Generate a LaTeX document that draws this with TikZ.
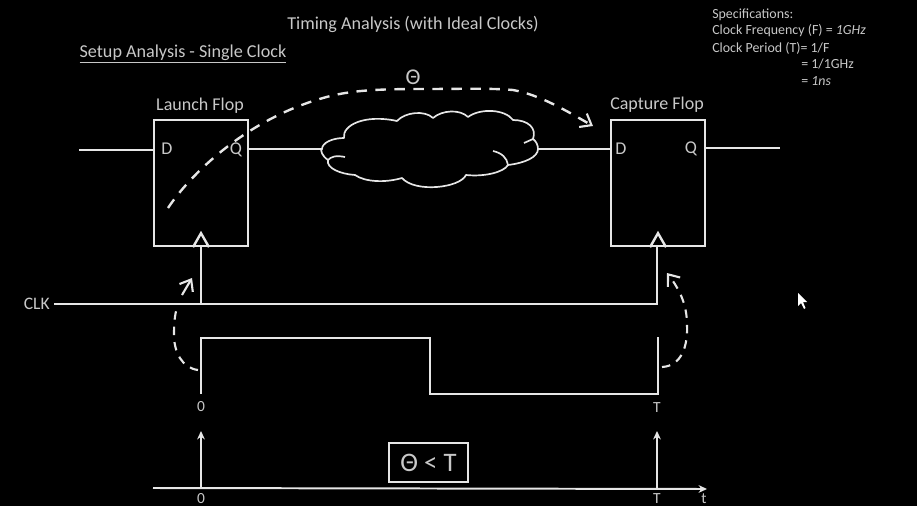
\documentclass[tikz,border=0pt]{standalone}
\usepackage{fontspec}
\setmainfont{Carlito}
\usetikzlibrary{arrows.meta}
\usetikzlibrary{calc}
\usetikzlibrary{positioning}
\definecolor{wireCol}{HTML}{E6E6E6}
\definecolor{textCol}{HTML}{C8C8C8}
\begin{document}
\begin{tikzpicture}[x=0.025cm, y=-0.025cm,
    wire/.style={draw=wireCol, line width=1.7pt},
    thin wire/.style={draw=wireCol, line width=1.2pt},
    dash flow/.style={draw=wireCol, line width=1.7pt, dash pattern=on 7.5pt off 6pt},
    short flow/.style={draw=wireCol, line width=1.5pt, dash pattern=on 6pt off 5pt},
    barb/.style={-{Straight Barb[length=7pt, width=11pt, line width=1.5pt]}},
    flop/.style={rectangle, draw=wireCol, line width=1.7pt, minimum width=2.35cm, minimum height=3.15cm},
    label/.style={text=textCol, font=\fontsize{12.8}{14}\selectfont, inner sep=0pt},
    small label/.style={text=textCol, font=\fontsize{11}{12}\selectfont, inner sep=0pt},
    spec/.style={text=textCol, font=\fontsize{9.9}{11}\selectfont, inner sep=0pt, anchor=west},
    stem/.style={-{Stealth[length=6pt, width=5.5pt]}, draw=wireCol, line width=1.4pt}]
    \fill[black] (0, 0) rectangle (917, 506);
    \useasboundingbox (0, 0) rectangle (917, 506);

    \node[label, font=\fontsize{12.9}{14}\selectfont] (title) at (413, 24.5) {Timing Analysis (with Ideal Clocks)};
    \node[label, font=\fontsize{12.9}{14}\selectfont] (setup) at (183, 54) {\underline{Setup Analysis - Single Clock}};
    \node[spec] (spec1) at (712, 14.5) {Specifications:};
    \node[spec] (spec2) at (712, 31) {Clock Frequency (F) = \textit{1GHz}};
    \node[spec] (spec3) at (712, 48) {Clock Period (T)= 1/F};
    \node[spec] (spec4) at (801, 64) {= 1/1GHz};
    \node[spec] (spec5) at (801, 81) {= \textit{1ns}};

    \node[flop] (launch) at (201, 183) {};
    \node[flop] (capture) at (658, 183) {};
    \node[label] (launchName) at (200, 106) {Launch Flop};
    \node[label] (captureName) at (657, 105) {Capture Flop};
    \node[label] (launchD) at (167, 149) {D};
    \node[label] (launchQ) at (236, 150) {Q};
    \node[label] (captureD) at (621, 149) {D};
    \node[label] (captureQ) at (691, 149) {Q};
    \node[label, font=\fontsize{16}{18}\selectfont] (theta) at (413, 77) {Θ};

    \coordinate (dataIn) at (79, 150);
    \coordinate (dataOut) at (780, 148);
    \coordinate (cloudL) at (322, 149);
    \coordinate (cloudR) at (538, 149);
    \draw[wire] (dataIn) -- (launch.west |- dataIn);
    \draw[wire] (launch.east |- cloudL) -- (cloudL);
    \draw[wire] (cloudR) -- (capture.west |- cloudR);
    \draw[wire] (capture.east |- dataOut) -- (dataOut);

    \draw[thin wire, line join=round] (345, 157) .. controls (335, 155) and (331, 157) .. (328, 160)
        .. controls (322, 156) and (320, 150) .. (cloudL)
        .. controls (322, 143) and (332, 138) .. (344, 138)
        .. controls (342, 125) and (365, 114) .. (397, 121)
        .. controls (405, 112) and (425, 110) .. (433, 118)
        .. controls (442, 110) and (460, 109) .. (468, 117)
        .. controls (480, 108) and (505, 109) .. (513, 120)
        .. controls (528, 120) and (537, 128) .. (533, 139)
        .. controls (536, 141) and (538, 145) .. (cloudR)
        .. controls (538, 157) and (525, 163) .. (508, 165)
        .. controls (504, 172) and (485, 177) .. (466, 175)
        .. controls (460, 188) and (415, 193) .. (402, 178)
        .. controls (385, 183) and (365, 182) .. (355, 175)
        .. controls (340, 174) and (326, 168) .. (328, 160);
    \draw[thin wire] (533, 139) -- (524, 143);
    \draw[thin wire] (493, 151) .. controls (502, 153) and (507, 158) .. (508, 165);

    \draw[dash flow, barb] (168, 208) .. controls (190, 175) and (245, 120) .. (323, 98)
        .. controls (350, 90) and (380, 89) .. (423, 89)
        .. controls (460, 89) and (490, 88) .. (513, 90)
        .. controls (540, 95) and (565, 110) .. (593, 126);

    \coordinate (clkIn) at (54, 304);
    \coordinate (launchClk) at (201, 304);
    \coordinate (captureClk) at (657, 304);
    \node[label, font=\fontsize{12.5}{14}\selectfont, left=1mm of clkIn] (clk) {CLK};
    \draw[wire] (clkIn) -- (captureClk) -- (capture.south -| captureClk);
    \draw[wire] (launchClk) -- (launch.south -| launchClk);
    \foreach \f in {launch, capture}
    {
        \draw[wire, line join=miter] ($(\f.south) + (-8, 0)$) -- ($(\f.south) + (0, -14)$) -- ($(\f.south) + (8, 0)$);
    }

    \coordinate (wave0) at (201, 394);
    \coordinate (waveT) at (658, 337);
    \draw[wire] (wave0) -- (201, 338) -- (430, 338) -- (430, 394) -- (658, 394) -- (waveT);
    \node[small label] (zero) at (201, 407) {0};
    \node[small label] (tee) at (657, 408) {T};

    \draw[short flow] (198, 370) .. controls (182, 368) and (174, 352) .. (174, 335)
        .. controls (174, 322) and (175, 312) .. (178, 305);
    \draw[short flow, barb, dash pattern=on 12pt off 0pt] (182, 295) -- (192, 278);
    \draw[short flow, barb] (662, 367) .. controls (682, 366) and (688, 345) .. (687, 325)
        .. controls (687, 305) and (680, 290) .. (667, 273);

    \coordinate (axisL) at (153, 488);
    \coordinate (axisR) at (707, 489);
    \draw[stem] (axisL) -- (axisR);
    \coordinate (base0) at (201, 488);
    \coordinate (baseT) at (657, 489);
    \draw[stem] (base0) -- (201, 431);
    \draw[stem] (baseT) -- (657, 431);
    \node[rectangle, draw=wireCol, line width=1.2pt, text=textCol, minimum width=1.97cm, minimum height=0.97cm, inner sep=0pt, font=\fontsize{19}{21}\selectfont] (setupRule) at (428.5, 462.5) {Θ < T};
    \node[small label] (zeroB) at (201, 499) {0};
    \node[small label] (teeB) at (657, 499) {T};
    \node[small label] (tB) at (704, 499) {t};

    \fill[white] (798, 293) -- (798, 306) -- (801, 303) -- (804, 309) -- (805.5, 308) -- (803, 302) -- (807, 302) -- cycle;
\end{tikzpicture}
\end{document}
